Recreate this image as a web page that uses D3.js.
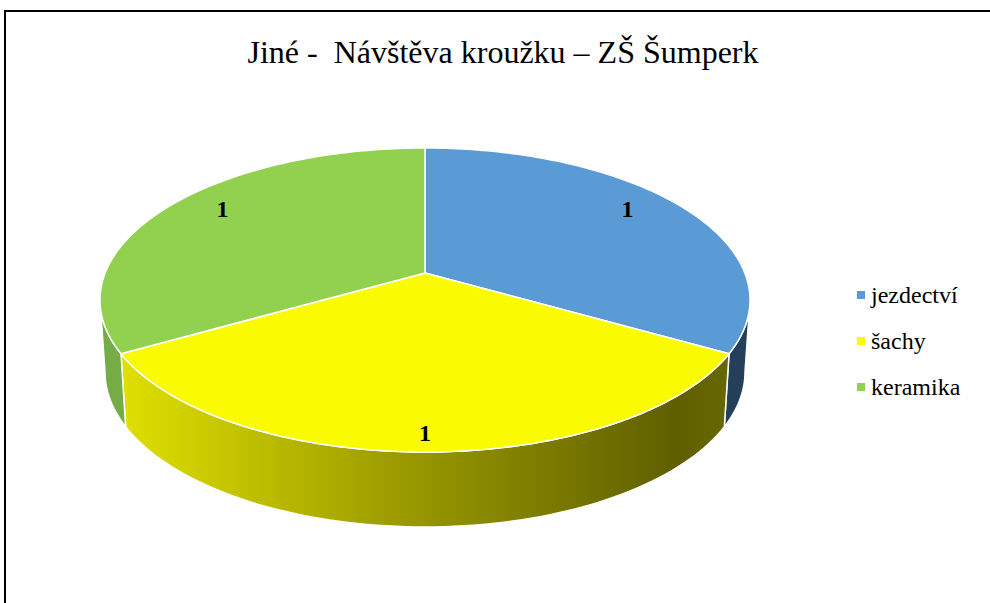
<!DOCTYPE html>
<html>
<head>
<meta charset="utf-8">
<script src="https://cdn.jsdelivr.net/npm/d3@7"></script>
<style>
  body { margin: 0; background: #fff; }
  svg { display: block; }
  svg text { white-space: pre; }
</style>
</head>
<body>
<svg width="990" height="603"></svg>
<script>
var categories = ['jezdectví', 'šachy', 'keramika'];
var values = [1, 1, 1];
var topColors = ['#5B9BD5', '#FAFA00', '#92D050'];
var sideColors = ['#233F5A', 'url(#yellowSide)', '#76AC46'];
var title = 'Jiné -  Návštěva kroužku – ZŠ Šumperk';

var width = 990;
var height = 603;
var font = 'Liberation Serif';
var cx = 425, cy = 300, rx = 325, ry = 152;
var bcy = 372, brx = 320, bry = 155;
var tilt = -0.178; // perspective shift of the pie centre

var svg = d3.select('svg');

var defs = svg.append('defs');
var grad = defs.append('linearGradient')
  .attr('id', 'yellowSide')
  .attr('gradientUnits', 'userSpaceOnUse')
  .attr('x1', 110).attr('x2', 740).attr('y1', 0).attr('y2', 0);
grad.append('stop').attr('offset', '0').attr('stop-color', '#E2E200');
grad.append('stop').attr('offset', '0.45').attr('stop-color', '#9C9C00');
grad.append('stop').attr('offset', '0.9').attr('stop-color', '#5F5F00');
grad.append('stop').attr('offset', '1').attr('stop-color', '#6A6A00');

// chart frame
svg.append('rect')
  .attr('x', 5).attr('y', 11)
  .attr('width', width + 20).attr('height', height + 20)
  .attr('fill', 'none')
  .attr('stroke', '#000')
  .attr('stroke-width', 2);

// pie angle -> point on unit disc after perspective
function project(a, k) {
  var x = k * Math.sin(a), y = -k * Math.cos(a);
  var den = 1 + tilt * y;
  return [x * Math.sqrt(1 - tilt * tilt) / den, (y + tilt) / den];
}
function param(a) {
  var p = project(a, 1);
  var t = Math.atan2(p[0], -p[1]);
  if (t < 0) t += 2 * Math.PI;
  if (a >= 2 * Math.PI - 1e-9) t = 2 * Math.PI;
  return t;
}
function topPt(t) { return [cx + rx * Math.sin(t), cy - ry * Math.cos(t)]; }
function botPt(t) { return [cx + brx * Math.sin(t), bcy - bry * Math.cos(t)]; }

var pie = d3.pie().sort(null).value(d => d)(values);
var line = d3.line();

// side walls (only the front half is visible)
var g = svg.append('g');
pie.forEach(function(d, i) {
  var t0 = Math.max(param(d.startAngle), Math.PI / 2);
  var t1 = Math.min(param(d.endAngle), 3 * Math.PI / 2);
  if (t1 <= t0) return;
  var pts = [];
  var n = 80;
  for (var j = 0; j <= n; j++) pts.push(topPt(t0 + (t1 - t0) * j / n));
  for (var j = n; j >= 0; j--) pts.push(botPt(t0 + (t1 - t0) * j / n));
  g.append('path')
    .attr('d', line(pts) + 'Z')
    .attr('fill', sideColors[i])
    .attr('stroke', '#fff')
    .attr('stroke-width', 1.5)
    .attr('stroke-linejoin', 'round');
});

// top faces
pie.forEach(function(d, i) {
  var t0 = param(d.startAngle), t1 = param(d.endAngle);
  var pts = [[cx, cy + ry * project(0, 0)[1]]];
  var n = 120;
  for (var j = 0; j <= n; j++) pts.push(topPt(t0 + (t1 - t0) * j / n));
  g.append('path')
    .attr('d', line(pts) + 'Z')
    .attr('fill', topColors[i])
    .attr('stroke', '#fff')
    .attr('stroke-width', 1.5)
    .attr('stroke-linejoin', 'round');
});

// data labels
pie.forEach(function(d, i) {
  var mid = (d.startAngle + d.endAngle) / 2;
  var t = Math.PI + (param(mid) - Math.PI) * 1.044;
  var p = [cx + 0.868 * rx * Math.sin(t), cy - 0.868 * ry * Math.cos(t)];
  svg.append('text')
    .attr('x', p[0]).attr('y', p[1])
    .attr('dy', '0.36em')
    .attr('text-anchor', 'middle')
    .attr('font-family', font)
    .attr('font-weight', 'bold')
    .attr('font-size', 24)
    .text(d.data);
});

// title
svg.append('text')
  .attr('x', 503).attr('y', 63)
  .attr('text-anchor', 'middle')
  .attr('font-family', font)
  .attr('font-size', 32)
  .text(title);

// legend
var legendY = d3.scalePoint().domain(categories).range([295, 387]);
var legend = svg.append('g');
categories.forEach(function(c, i) {
  legend.append('rect')
    .attr('x', 857).attr('y', legendY(c) - 4)
    .attr('width', 8).attr('height', 8)
    .attr('fill', topColors[i]);
  legend.append('text')
    .attr('x', 871).attr('y', legendY(c) + 8)
    .attr('font-family', font)
    .attr('font-size', 24)
    .text(c);
});
</script>
</body>
</html>
